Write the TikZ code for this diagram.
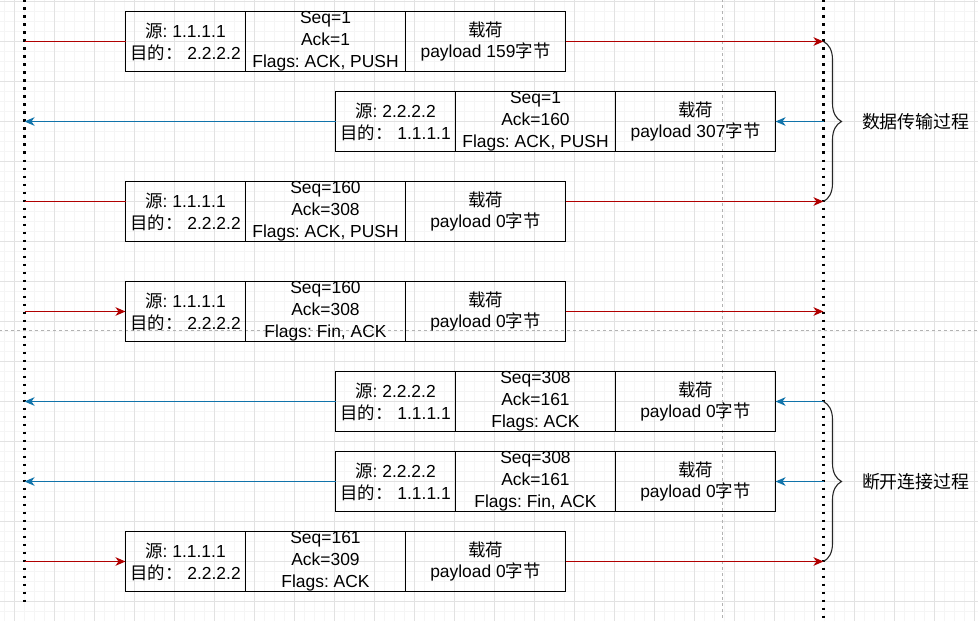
\documentclass[tikz,border=0pt]{standalone}
\usepackage{fontspec}
\setmainfont{Liberation Sans}
\newfontfamily\zhfont{Noto Sans CJK SC}
\newcommand{\zh}[1]{{\zhfont #1}}
\usetikzlibrary{arrows.meta,positioning,decorations.pathreplacing}
\frenchspacing

\definecolor{msgred}{RGB}{176,0,0}
\definecolor{msgblue}{RGB}{16,115,170}
\definecolor{gridmajor}{RGB}{226,226,226}
\definecolor{gridminor}{RGB}{245,245,245}

\begin{document}
\begin{tikzpicture}[x=1bp,y=-1bp,>={Stealth[length=10bp,width=8.5bp,inset=3bp]},
  node distance=0pt,
  cell/.style={draw,line width=1.1bp,minimum height=60bp,inner sep=0pt,outer sep=0pt},
  celltext/.style={align=center,inner sep=0pt,font=\fontsize{17.5}{22}\selectfont},
  lifeline/.style={line width=2.5bp,dash pattern=on 2.5bp off 5.5bp},
  msga/.style={msgred,line width=1.7bp},
  msgb/.style={msgblue,line width=1.7bp},
  phase/.style={anchor=west,font=\zhfont\fontsize{18}{22}\selectfont},
  bracket/.style={decorate,decoration={brace,amplitude=18bp},line width=1.1bp,black!85}]

  \useasboundingbox (0,0) rectangle (978,621);
  \begin{scope}[shift={(0.5,0.5)}]
  % canvas and grid
  \fill[white] (-0.5,-0.5) rectangle (977.5,620.5);
  \foreach \x in {4,14,...,974} \draw[gridminor] (\x,-1) -- (\x,621);
  \foreach \y in {1,11,...,621} \draw[gridminor] (-1,\y) -- (978,\y);
  \foreach \x in {14,54,...,974} \draw[gridmajor] (\x,-1) -- (\x,621);
  \foreach \y in {1,41,...,601} \draw[gridmajor] (-1,\y) -- (978,\y);
  \draw[black!30,dashed] (722,-1) -- (722,621);
  \draw[black!30,dashed] (-1,330) -- (978,330);

  % hosts
  \coordinate (Atop) at (24,-1);
  \coordinate (Abot) at (24,603);
  \coordinate (Btop) at (823,-1);
  \coordinate (Bbot) at (823,621);
  \draw[lifeline] (Atop) -- (Abot);
  \draw[lifeline] (Btop) -- (Bbot);

  % packets
  \foreach \n/\x/\y/\ly/\src/\seg/\pay in {
    1/125/41/41/{\zh{源}: 1.1.1.1\\\zh{目的：} 2.2.2.2}/{Seq=1\\Ack=1\\Flags: ACK, PUSH}/{\zh{载荷}\\payload 159\zh{字节}},
    2/335/121/121/{\zh{源}: 2.2.2.2\\\zh{目的：} 1.1.1.1}/{Seq=1\\Ack=160\\Flags: ACK, PUSH}/{\zh{载荷}\\payload 307\zh{字节}},
    3/125/211/201/{\zh{源}: 1.1.1.1\\\zh{目的：} 2.2.2.2}/{Seq=160\\Ack=308\\Flags: ACK, PUSH}/{\zh{载荷}\\payload 0\zh{字节}},
    4/125/311/311/{\zh{源}: 1.1.1.1\\\zh{目的：} 2.2.2.2}/{Seq=160\\Ack=308\\Flags: Fin, ACK}/{\zh{载荷}\\payload 0\zh{字节}},
    5/335/401/401/{\zh{源}: 2.2.2.2\\\zh{目的：} 1.1.1.1}/{Seq=308\\Ack=161\\Flags: ACK}/{\zh{载荷}\\payload 0\zh{字节}},
    6/335/481/481/{\zh{源}: 2.2.2.2\\\zh{目的：} 1.1.1.1}/{Seq=308\\Ack=161\\Flags: Fin, ACK}/{\zh{载荷}\\payload 0\zh{字节}},
    7/125/561/561/{\zh{源}: 1.1.1.1\\\zh{目的：} 2.2.2.2}/{Seq=161\\Ack=309\\Flags: ACK}/{\zh{载荷}\\payload 0\zh{字节}}}
  {
    \node[cell,minimum width=120bp,anchor=west,label={[celltext]center:{\src}}] (p\n-src) at (\x,\y) {};
    \node[cell,minimum width=160bp,right=of p\n-src,label={[celltext]center:{\seg}}] (p\n-seg) {};
    \node[cell,minimum width=160bp,right=of p\n-seg,label={[celltext]center:{\pay}}] (p\n-pay) {};
    \coordinate (A\n) at (24,\ly);
    \coordinate (B\n) at (823,\ly);
  }

  % 1.1.1.1 -> 2.2.2.2
  \draw[msga] (A1) -- (A1 -| p1-src.west);
  \draw[msga,->] (A1 -| p1-pay.east) -- (B1);
  \draw[msga] (A3) -- (A3 -| p3-src.west);
  \draw[msga,->] (A3 -| p3-pay.east) -- (B3);
  \draw[msga,->] (A4) -- (A4 -| p4-src.west);
  \draw[msga,->] (A4 -| p4-pay.east) -- (B4);
  \draw[msga,->] (A7) -- (A7 -| p7-src.west);
  \draw[msga,->] (A7 -| p7-pay.east) -- (B7);

  % 2.2.2.2 -> 1.1.1.1
  \draw[msgb,->] (B2) -- (B2 -| p2-pay.east);
  \draw[msgb,->] (B2 -| p2-src.west) -- (A2);
  \draw[msgb,->] (B5) -- (B5 -| p5-pay.east);
  \draw[msgb,->] (B5 -| p5-src.west) -- (A5);
  \draw[msgb,->] (B6) -- (B6 -| p6-pay.east);
  \draw[msgb,->] (B6 -| p6-src.west) -- (A6);

  % phases
  \draw[bracket] (B1) -- (B3);
  \draw[bracket] (B5) -- (B7);
  \node[phase] (transfer) at (858,121) {数据传输过程};
  \node[phase] (teardown) at (858,481) {断开连接过程};
  \end{scope}
\end{tikzpicture}
\end{document}
